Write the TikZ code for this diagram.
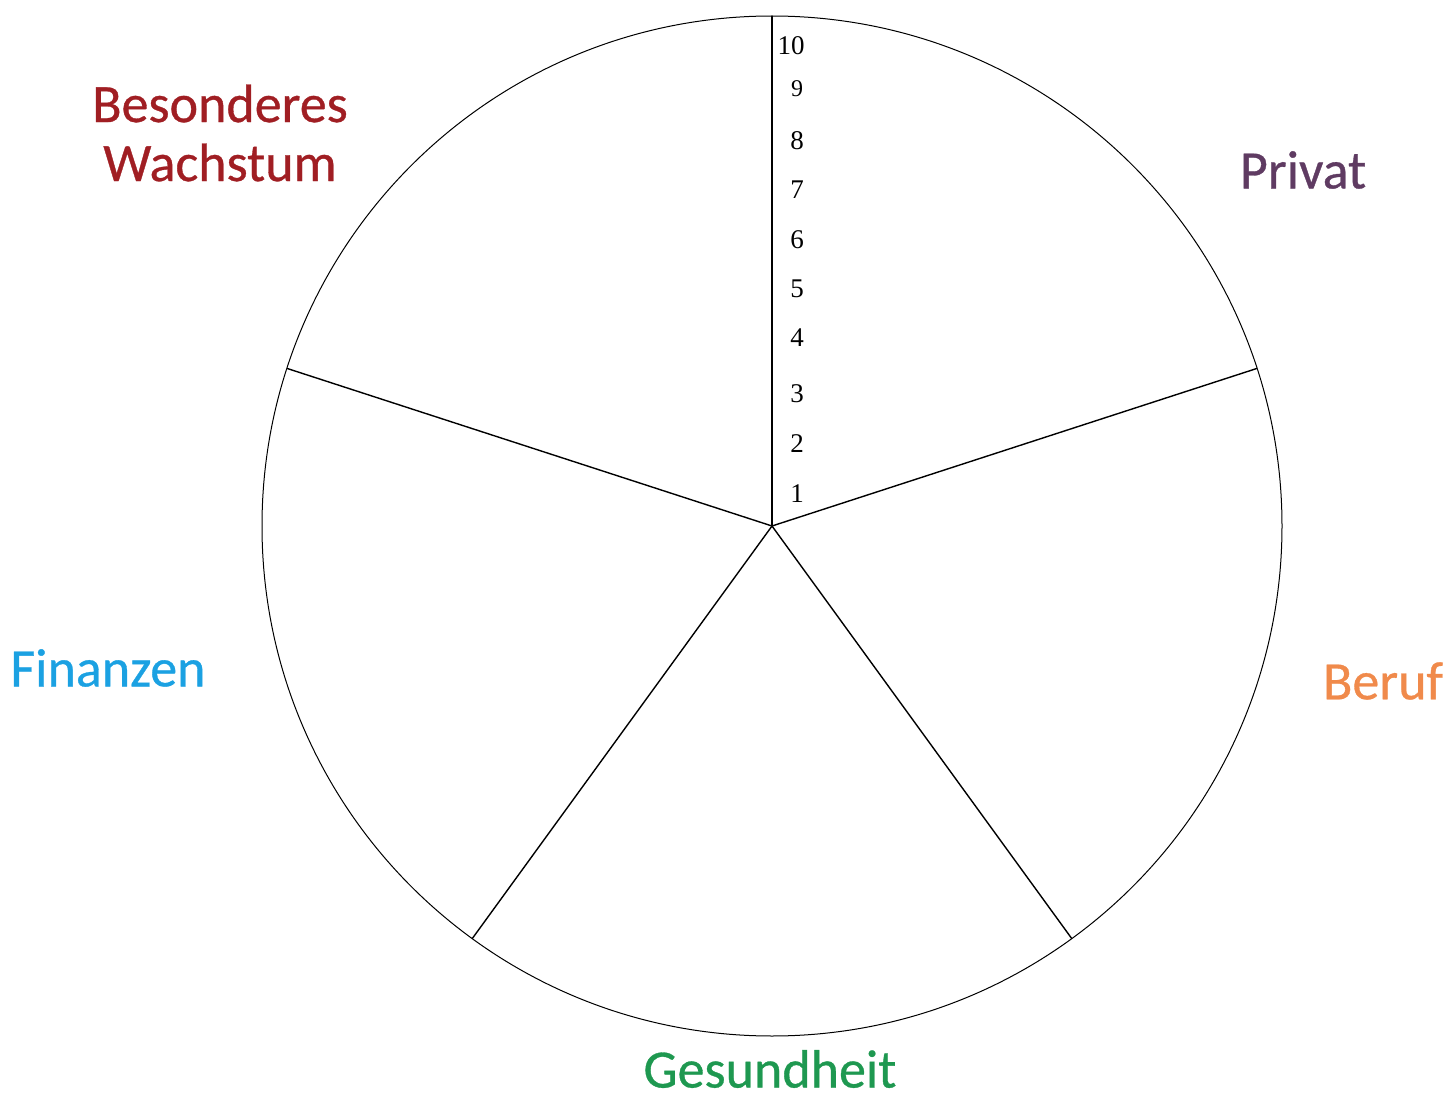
\documentclass[tikz,border=0pt]{standalone}
\usepackage{fontspec}
\usetikzlibrary{calc}
\setmainfont{Liberation Serif}
\newfontfamily\calib[BoldFont=Carlito, BoldFeatures={FakeBold=0.6}]{Carlito}
\definecolor{cRed}{HTML}{A01E23}
\definecolor{cPurple}{HTML}{5F3B62}
\definecolor{cOrange}{HTML}{F08A4B}
\definecolor{cBlue}{HTML}{1BA1E2}
\definecolor{cGreen}{HTML}{1E9850}
\begin{document}
\begin{tikzpicture}[x=0.5pt,y=-0.5pt,
  cat/.style={font=\calib\bfseries\fontsize{27}{29.5}\selectfont, inner sep=0pt, align=center},
  num/.style={font=\fontsize{13.5}{14}\selectfont, inner sep=0pt},
  spoke/.style={line width=0.7pt, black}]
\useasboundingbox (0,0) rectangle (1448,1097);
\coordinate (c) at (772,526);
\draw[line width=0.5pt] (c) circle[radius=510];
\foreach \a/\n in {90/p1,18/p2,-54/p3,-126/p4,162/p5}{
  \coordinate (\n) at ($(c)+(\a:510 and -510)$);
}
\draw[spoke] (c) -- (p1);
\draw[spoke] (c) -- (p2);
\draw[spoke] (c) -- (p3);
\draw[spoke] (c) -- (p4);
\draw[spoke] (c) -- (p5);
\node[num] (n10) at (791,46) {10};
\node[num,font=\fontsize{12}{13}\selectfont] (n9) at (797,89) {9};
\node[num] (n8) at (797,141) {8};
\node[num] (n7) at (797,190) {7};
\node[num] (n6) at (797,240) {6};
\node[num] (n5) at (797,289) {5};
\node[num] (n4) at (797,338) {4};
\node[num] (n3) at (797,394) {3};
\node[num] (n2) at (797,444) {2};
\node[num] (n1) at (797,494) {1};
\node[cat, text=cRed] (lbw) at (220,133) {Besonderes\\Wachstum};
\node[cat, text=cPurple] (lpr) at (1303,170) {Privat};
\node[cat, text=cOrange] (lbe) at (1383,681) {Beruf};
\node[cat, text=cBlue] (lfi) at (108,668) {Finanzen};
\node[cat, text=cGreen] (lge) at (770,1069) {Gesundheit};
\end{tikzpicture}
\end{document}
